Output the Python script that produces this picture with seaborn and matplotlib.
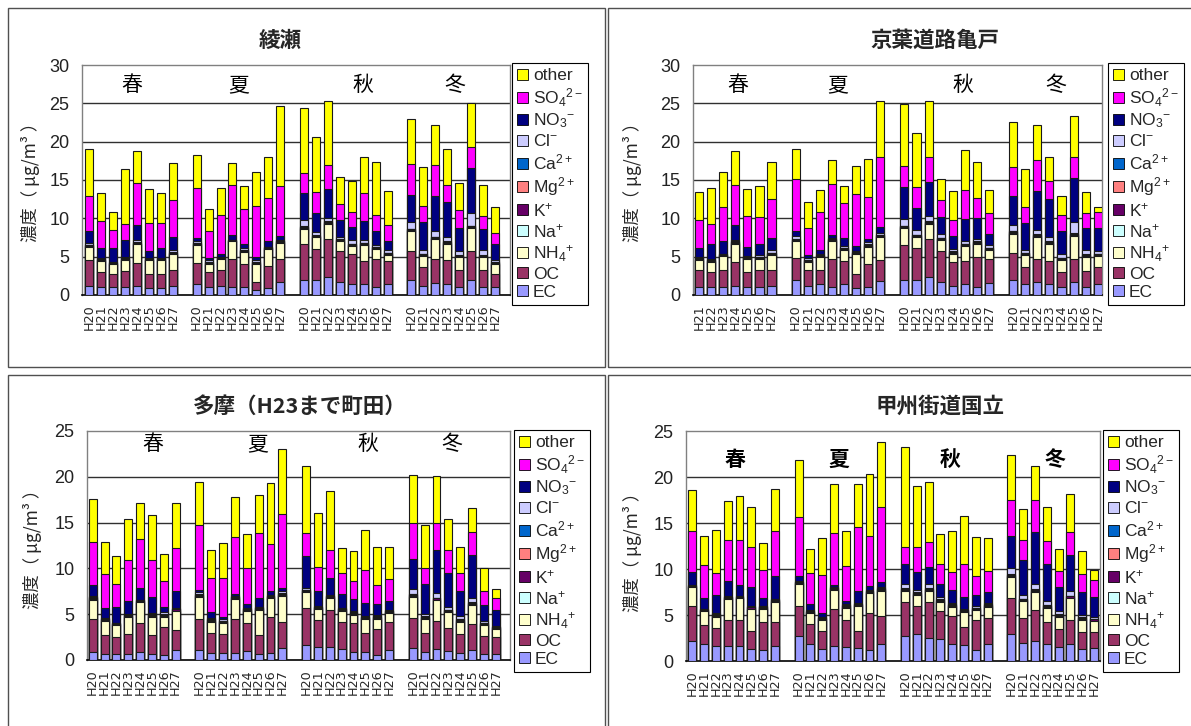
import matplotlib
matplotlib.use("Agg")
import matplotlib.pyplot as plt
from matplotlib.patches import Rectangle, Patch
import numpy as np
import pandas as pd
import seaborn as sns

sns.set_theme(style="white")
plt.rcParams["font.family"] = ["Noto Sans CJK JP", "DejaVu Sans"]
plt.rcParams["mathtext.fontset"] = "custom"
plt.rcParams["mathtext.rm"] = "Liberation Sans"
plt.rcParams["mathtext.it"] = "Liberation Sans:italic"
plt.rcParams["mathtext.bf"] = "Liberation Sans:bold"

# ---------------- data ----------------
YEARS = ["H20", "H21", "H22", "H23", "H24", "H25", "H26", "H27"]
SEASONS = ["春", "夏", "秋", "冬"]
COMPONENTS = ["EC", "OC", "NH4", "Na", "K", "Mg", "Ca", "Cl", "NO3", "SO4", "other"]
LEGEND_LABELS = {
    "other": "other", "SO4": r"SO$_4$$^{2-}$", "NO3": r"NO$_3$$^{-}$", "Cl": r"Cl$^{-}$",
    "Ca": r"Ca$^{2+}$", "Mg": r"Mg$^{2+}$", "K": r"K$^{+}$", "Na": r"Na$^{+}$",
    "NH4": r"NH$_4$$^{+}$", "OC": "OC", "EC": "EC",
}
COLORS = {
    "EC": "#9999FF", "OC": "#993366", "NH4": "#FFFFCC", "Na": "#CCFFFF", "K": "#660066",
    "Mg": "#FF8080", "Ca": "#0066CC", "Cl": "#CCCCFF", "NO3": "#000080", "SO4": "#FF00FF",
    "other": "#FFFF00",
}

# 綾瀬 (spring H20-H27, summer, autumn, winter)
AYASE_EC = [1.2, 1.0, 1.0, 1.0, 1.2, 0.9, 0.9, 1.2, 1.4, 1.0, 1.2, 1.0, 1.1, 0.7, 0.9, 1.7,
            2.0, 2.0, 2.3, 1.7, 1.4, 1.4, 1.0, 1.4, 1.9, 1.2, 1.6, 1.4, 1.0, 1.9, 1.0, 1.0]
AYASE_OC = [3.4, 2.0, 1.8, 2.1, 3.0, 1.9, 1.9, 2.1, 2.8, 2.0, 2.0, 3.7, 3.0, 1.0, 2.9, 3.0,
            4.7, 4.0, 5.0, 4.0, 4.0, 3.0, 3.7, 3.0, 3.9, 2.4, 3.1, 3.2, 2.2, 3.9, 2.3, 1.8]
AYASE_NH4 = [1.7, 1.4, 1.2, 1.4, 2.4, 1.7, 1.7, 2.0, 2.3, 1.0, 1.5, 2.3, 1.5, 2.3, 2.2, 2.1,
             1.9, 1.5, 2.0, 1.3, 1.0, 2.1, 1.3, 0.8, 2.5, 1.5, 2.6, 2.1, 1.7, 2.9, 1.6, 1.2]
AYASE_NA = [0.10, 0.10, 0.08, 0.10, 0.10, 0.08, 0.10, 0.10, 0.10, 0.10, 0.08, 0.06, 0.10, 0.10, 0.08, 0.10,
            0.12, 0.10, 0.10, 0.10, 0.10, 0.10, 0.10, 0.10, 0.12, 0.10, 0.10, 0.10, 0.10, 0.12, 0.10, 0.10]
AYASE_K = [0.12, 0.12, 0.10, 0.12, 0.12, 0.10, 0.12, 0.12, 0.12, 0.12, 0.10, 0.08, 0.12, 0.12, 0.10, 0.12,
           0.14, 0.12, 0.14, 0.12, 0.12, 0.12, 0.12, 0.12, 0.15, 0.12, 0.14, 0.14, 0.12, 0.15, 0.12, 0.12]
AYASE_MG = [0.02, 0.02, 0.02, 0.02, 0.02, 0.02, 0.02, 0.02, 0.02, 0.02, 0.02, 0.02, 0.02, 0.02, 0.02, 0.02,
            0.02, 0.02, 0.02, 0.02, 0.02, 0.02, 0.02, 0.02, 0.03, 0.02, 0.02, 0.02, 0.02, 0.03, 0.02, 0.02]
AYASE_CA = [0.04, 0.04, 0.04, 0.04, 0.05, 0.04, 0.04, 0.05, 0.05, 0.04, 0.04, 0.04, 0.05, 0.04, 0.04, 0.05,
            0.06, 0.05, 0.05, 0.05, 0.05, 0.05, 0.04, 0.05, 0.06, 0.05, 0.05, 0.05, 0.05, 0.06, 0.05, 0.04]
AYASE_CL = [0.2, 0.2, 0.05, 0.2, 0.3, 0.05, 0.1, 0.3, 0.2, 0.3, 0.05, 0.03, 0.2, 0.3, 0.05, 0.1,
            0.9, 0.4, 0.4, 0.3, 0.5, 0.4, 0.2, 0.4, 0.9, 0.5, 0.7, 0.6, 0.5, 1.7, 0.7, 0.3]
AYASE_NO3 = [1.6, 1.3, 1.8, 2.2, 2.0, 1.0, 1.2, 1.7, 0.5, 0.3, 0.4, 0.6, 0.6, 0.4, 0.7, 0.5,
             3.5, 2.5, 3.8, 2.2, 1.7, 2.4, 1.9, 1.2, 3.5, 3.6, 4.6, 4.5, 3.1, 5.8, 2.7, 2.1]
AYASE_SO4 = [4.5, 3.5, 2.4, 2.1, 5.4, 3.6, 3.3, 4.8, 6.5, 3.5, 5.0, 6.5, 4.5, 6.6, 5.7, 6.5,
             2.6, 2.7, 3.1, 2.1, 1.9, 3.7, 2.0, 2.0, 4.0, 2.1, 4.0, 2.2, 2.3, 2.8, 1.7, 1.4]
AYASE_OTHER = [6.1, 3.6, 2.3, 7.1, 4.2, 4.5, 3.9, 4.8, 4.3, 2.8, 3.6, 2.9, 3.0, 4.4, 5.3, 10.5,
               8.5, 7.2, 8.4, 3.5, 4.1, 4.7, 7.0, 4.5, 5.9, 5.1, 5.2, 4.7, 3.5, 5.7, 4.1, 3.4]

# 京葉道路亀戸 (spring H21-H27, summer, autumn, winter H20-H27)
KAMEIDO_EC = [1.0, 1.1, 1.1, 1.2, 1.0, 1.0, 1.2, 1.9, 1.2, 1.4, 1.1, 1.4, 0.9, 1.0, 1.8,
              2.0, 2.0, 2.3, 1.7, 1.2, 1.4, 1.1, 1.6, 1.9, 1.4, 1.7, 1.4, 1.0, 1.7, 1.0, 1.4]
KAMEIDO_OC = [2.2, 1.9, 2.2, 3.1, 2.0, 2.2, 2.1, 2.9, 2.1, 1.9, 3.6, 3.0, 1.9, 3.1, 2.8,
              4.5, 4.1, 5.0, 4.0, 3.1, 3.0, 3.8, 3.1, 3.6, 2.2, 3.0, 3.0, 2.0, 3.0, 2.1, 2.2]
KAMEIDO_NH4 = [1.3, 1.3, 1.8, 2.4, 1.7, 1.5, 1.9, 2.2, 1.0, 1.6, 2.3, 1.5, 2.5, 2.2, 3.0,
               2.2, 1.5, 2.0, 1.5, 1.1, 2.0, 1.8, 1.2, 2.5, 1.6, 2.9, 2.3, 1.6, 3.0, 1.9, 1.5]
KAMEIDO_NA = [0.10, 0.10, 0.08, 0.10, 0.10, 0.10, 0.10, 0.10, 0.10, 0.10, 0.10, 0.10, 0.10, 0.10, 0.10,
              0.12, 0.10, 0.10, 0.10, 0.10, 0.10, 0.10, 0.10, 0.12, 0.10, 0.10, 0.10, 0.10, 0.12, 0.10, 0.10]
KAMEIDO_K = [0.12, 0.12, 0.10, 0.12, 0.12, 0.12, 0.12, 0.12, 0.12, 0.12, 0.12, 0.12, 0.12, 0.12, 0.12,
             0.14, 0.12, 0.14, 0.12, 0.12, 0.12, 0.12, 0.12, 0.15, 0.12, 0.14, 0.14, 0.12, 0.15, 0.12, 0.12]
KAMEIDO_MG = [0.02, 0.02, 0.02, 0.02, 0.02, 0.02, 0.02, 0.02, 0.02, 0.02, 0.02, 0.02, 0.02, 0.02, 0.02,
              0.02, 0.02, 0.02, 0.02, 0.02, 0.02, 0.02, 0.02, 0.03, 0.02, 0.02, 0.02, 0.02, 0.03, 0.02, 0.02]
KAMEIDO_CA = [0.05, 0.05, 0.04, 0.05, 0.05, 0.05, 0.05, 0.05, 0.05, 0.05, 0.05, 0.05, 0.05, 0.05, 0.05,
              0.06, 0.05, 0.06, 0.05, 0.05, 0.05, 0.05, 0.05, 0.06, 0.05, 0.05, 0.05, 0.05, 0.06, 0.05, 0.05]
KAMEIDO_CL = [0.2, 0.1, 0.05, 0.2, 0.1, 0.2, 0.4, 0.4, 0.3, 0.2, 0.1, 0.2, 0.1, 0.3, 0.2,
              0.9, 0.6, 0.7, 0.5, 0.3, 0.3, 0.3, 0.3, 0.8, 0.4, 0.6, 0.6, 0.5, 1.5, 0.6, 0.4]
KAMEIDO_NO3 = [1.2, 2.0, 1.7, 1.9, 1.2, 1.5, 1.6, 0.6, 0.3, 0.5, 0.4, 1.0, 0.7, 0.4, 0.8,
               4.2, 2.9, 4.4, 2.2, 1.7, 2.9, 2.8, 1.5, 3.7, 3.5, 5.1, 4.9, 2.9, 5.7, 2.9, 3.0]
KAMEIDO_SO4 = [3.6, 2.6, 4.4, 5.2, 4.0, 3.5, 5.0, 6.8, 3.6, 4.9, 6.7, 4.6, 6.8, 5.5, 9.1,
               2.7, 2.7, 3.3, 2.2, 2.1, 3.8, 2.5, 2.7, 3.9, 2.1, 4.0, 2.4, 2.1, 2.7, 1.9, 2.0]
KAMEIDO_OTHER = [3.6, 4.7, 4.5, 4.5, 3.5, 4.0, 4.9, 3.9, 3.3, 2.9, 3.1, 2.2, 3.6, 4.9, 7.3,
                 8.1, 7.0, 7.3, 2.8, 3.8, 5.2, 4.8, 3.0, 5.8, 4.9, 4.5, 3.1, 2.5, 5.4, 2.7, 0.7]

# 多摩 (H23まで町田)
TAMA_EC = [0.9, 0.7, 0.7, 0.7, 0.9, 0.7, 0.5, 1.1, 1.1, 0.8, 0.8, 0.8, 1.0, 0.7, 0.8, 1.3,
           1.6, 1.4, 1.4, 1.2, 0.9, 0.9, 0.6, 1.1, 1.3, 0.9, 1.2, 1.0, 0.8, 1.1, 0.7, 0.7]
TAMA_OC = [3.6, 2.0, 1.8, 2.1, 3.1, 2.0, 3.1, 2.2, 3.4, 2.1, 2.0, 3.7, 3.0, 2.0, 3.9, 2.9,
           4.1, 3.0, 4.1, 3.0, 3.1, 2.1, 2.8, 3.0, 3.3, 2.1, 3.1, 2.5, 2.0, 2.8, 1.9, 1.8]
TAMA_NH4 = [2.1, 1.6, 1.3, 1.9, 2.3, 2.0, 1.1, 2.0, 2.4, 1.3, 1.2, 2.2, 1.4, 2.8, 2.1, 2.8,
            1.7, 1.2, 1.3, 1.2, 0.9, 1.5, 1.1, 1.0, 2.3, 1.5, 2.2, 1.7, 1.4, 2.1, 1.2, 0.9]
TAMA_NA = [0.10, 0.08, 0.08, 0.08, 0.08, 0.10, 0.10, 0.10, 0.10, 0.10, 0.10, 0.08, 0.08, 0.08, 0.08, 0.10,
           0.10, 0.08, 0.08, 0.08, 0.10, 0.08, 0.10, 0.10, 0.10, 0.10, 0.10, 0.10, 0.10, 0.10, 0.10, 0.08]
TAMA_K = [0.12, 0.10, 0.10, 0.10, 0.10, 0.12, 0.12, 0.12, 0.12, 0.12, 0.12, 0.10, 0.10, 0.10, 0.10, 0.12,
          0.12, 0.10, 0.10, 0.10, 0.12, 0.10, 0.12, 0.12, 0.14, 0.12, 0.14, 0.12, 0.12, 0.14, 0.12, 0.10]
TAMA_MG = [0.02, 0.02, 0.02, 0.02, 0.02, 0.02, 0.02, 0.02, 0.02, 0.02, 0.02, 0.02, 0.02, 0.02, 0.02, 0.02,
           0.02, 0.02, 0.02, 0.02, 0.02, 0.02, 0.02, 0.02, 0.02, 0.02, 0.02, 0.02, 0.02, 0.02, 0.02, 0.02]
TAMA_CA = [0.05, 0.04, 0.04, 0.04, 0.04, 0.05, 0.05, 0.05, 0.05, 0.05, 0.05, 0.04, 0.04, 0.04, 0.04, 0.05,
           0.05, 0.04, 0.04, 0.04, 0.05, 0.04, 0.05, 0.05, 0.05, 0.05, 0.05, 0.05, 0.05, 0.05, 0.05, 0.04]
TAMA_CL = [0.1, 0.05, 0.05, 0.05, 0.05, 0.1, 0.2, 0.1, 0.2, 0.1, 0.2, 0.05, 0.05, 0.05, 0.05, 0.2,
           0.2, 0.05, 0.05, 0.05, 0.2, 0.05, 0.1, 0.1, 0.5, 0.2, 0.5, 0.3, 0.3, 0.5, 0.2, 0.1]
TAMA_NO3 = [1.2, 1.1, 1.7, 1.4, 1.3, 1.8, 0.6, 1.8, 0.3, 0.6, 0.2, 0.2, 0.4, 1.0, 0.4, 0.4,
            3.5, 1.6, 1.9, 1.5, 1.3, 1.4, 1.2, 0.9, 3.3, 3.3, 4.7, 3.7, 2.7, 4.7, 1.7, 1.7]
TAMA_SO4 = [4.7, 3.7, 2.5, 4.5, 5.3, 4.0, 2.8, 4.7, 7.0, 3.8, 4.3, 6.2, 3.9, 7.1, 5.2, 8.0,
            2.5, 2.7, 3.0, 2.3, 1.9, 3.6, 2.1, 2.4, 3.9, 1.8, 3.0, 2.5, 2.0, 2.5, 1.5, 1.3]
TAMA_OTHER = [4.7, 3.5, 3.1, 4.5, 4.0, 4.9, 3.0, 5.0, 4.7, 3.0, 3.8, 4.4, 3.8, 4.1, 6.6, 7.1,
              7.3, 5.9, 6.5, 2.7, 3.3, 4.4, 4.1, 3.5, 5.3, 4.6, 5.1, 3.4, 2.8, 2.6, 2.5, 1.0]

# 甲州街道国立
KUNITACHI_EC = [2.2, 1.8, 1.6, 1.6, 1.6, 1.3, 1.2, 1.6, 2.7, 1.9, 1.3, 1.6, 1.5, 1.4, 1.2, 1.8,
                2.7, 2.9, 2.5, 2.4, 1.8, 1.7, 1.2, 1.8, 2.9, 2.0, 2.2, 1.8, 1.5, 1.8, 1.3, 1.4]
KUNITACHI_OC = [3.8, 2.1, 2.0, 2.9, 2.9, 2.0, 3.0, 2.6, 3.3, 2.1, 2.0, 4.1, 3.0, 1.9, 4.0, 3.1,
                3.7, 3.1, 3.9, 3.0, 3.1, 2.0, 3.3, 2.9, 3.9, 2.7, 3.3, 2.4, 2.0, 2.7, 1.9, 1.8]
KUNITACHI_NH4 = [2.0, 1.5, 1.2, 2.2, 2.3, 2.3, 1.5, 2.2, 2.4, 1.2, 1.2, 2.0, 1.3, 2.7, 2.2, 2.7,
                 1.2, 1.2, 1.2, 1.0, 1.0, 1.6, 1.0, 1.2, 2.3, 1.8, 2.0, 1.6, 1.3, 2.3, 1.3, 1.1]
KUNITACHI_NA = [0.08, 0.08, 0.10, 0.10, 0.08, 0.10, 0.08, 0.10, 0.08, 0.08, 0.08, 0.10, 0.10, 0.08, 0.08, 0.10,
                0.10, 0.10, 0.10, 0.10, 0.10, 0.10, 0.10, 0.10, 0.10, 0.10, 0.10, 0.10, 0.10, 0.10, 0.10, 0.10]
KUNITACHI_K = [0.10, 0.10, 0.12, 0.12, 0.10, 0.12, 0.10, 0.12, 0.10, 0.10, 0.10, 0.12, 0.12, 0.10, 0.10, 0.12,
               0.14, 0.12, 0.14, 0.12, 0.12, 0.12, 0.12, 0.12, 0.15, 0.12, 0.14, 0.12, 0.12, 0.14, 0.12, 0.12]
KUNITACHI_MG = [0.02, 0.02, 0.02, 0.02, 0.02, 0.02, 0.02, 0.02, 0.02, 0.02, 0.02, 0.02, 0.02, 0.02, 0.02, 0.02,
                0.02, 0.02, 0.02, 0.02, 0.02, 0.02, 0.02, 0.02, 0.03, 0.02, 0.02, 0.02, 0.02, 0.02, 0.02, 0.02]
KUNITACHI_CA = [0.04, 0.04, 0.05, 0.05, 0.04, 0.05, 0.04, 0.05, 0.04, 0.04, 0.04, 0.05, 0.05, 0.04, 0.04, 0.05,
                0.06, 0.05, 0.06, 0.05, 0.05, 0.05, 0.05, 0.05, 0.06, 0.05, 0.05, 0.05, 0.05, 0.05, 0.05, 0.05]
KUNITACHI_CL = [0.05, 0.05, 0.1, 0.1, 0.05, 0.1, 0.05, 0.1, 0.05, 0.05, 0.05, 0.1, 0.1, 0.05, 0.05, 0.1,
                0.4, 0.2, 0.4, 0.3, 0.1, 0.1, 0.2, 0.1, 0.7, 0.4, 0.6, 0.4, 0.3, 0.5, 0.2, 0.2]
KUNITACHI_NO3 = [1.4, 1.2, 2.0, 1.6, 1.2, 2.0, 0.9, 2.4, 0.5, 0.7, 0.4, 0.2, 0.3, 1.3, 0.5, 0.6,
                 2.2, 2.0, 1.9, 1.4, 1.4, 1.3, 1.2, 1.2, 3.5, 3.8, 5.6, 4.0, 2.6, 3.9, 2.5, 2.2]
KUNITACHI_SO4 = [4.4, 3.5, 2.4, 4.5, 4.9, 4.4, 3.0, 4.9, 6.5, 3.4, 4.2, 5.6, 3.8, 7.0, 5.4, 8.2,
                 1.9, 2.7, 2.7, 2.1, 2.0, 3.6, 2.0, 2.3, 3.9, 2.2, 3.5, 2.5, 1.8, 2.5, 2.0, 1.8]
KUNITACHI_OTHER = [4.5, 3.2, 4.7, 4.2, 4.7, 4.4, 2.9, 4.6, 6.2, 2.6, 4.0, 5.3, 3.8, 4.6, 6.7, 7.0,
                   10.8, 6.6, 6.5, 3.3, 4.4, 5.2, 4.3, 3.6, 4.8, 3.3, 3.7, 3.8, 2.4, 4.1, 2.5, 1.1]

STATIONS = [
    dict(title="綾瀬", first_spring=0, ymax=30,
         data=[AYASE_EC, AYASE_OC, AYASE_NH4, AYASE_NA, AYASE_K, AYASE_MG, AYASE_CA, AYASE_CL,
               AYASE_NO3, AYASE_SO4, AYASE_OTHER]),
    dict(title="京葉道路亀戸", first_spring=1, ymax=30,
         data=[KAMEIDO_EC, KAMEIDO_OC, KAMEIDO_NH4, KAMEIDO_NA, KAMEIDO_K, KAMEIDO_MG, KAMEIDO_CA,
               KAMEIDO_CL, KAMEIDO_NO3, KAMEIDO_SO4, KAMEIDO_OTHER]),
    dict(title="多摩（H23まで町田）", first_spring=0, ymax=25,
         data=[TAMA_EC, TAMA_OC, TAMA_NH4, TAMA_NA, TAMA_K, TAMA_MG, TAMA_CA, TAMA_CL,
               TAMA_NO3, TAMA_SO4, TAMA_OTHER]),
    dict(title="甲州街道国立", first_spring=0, ymax=25,
         data=[KUNITACHI_EC, KUNITACHI_OC, KUNITACHI_NH4, KUNITACHI_NA, KUNITACHI_K, KUNITACHI_MG,
               KUNITACHI_CA, KUNITACHI_CL, KUNITACHI_NO3, KUNITACHI_SO4, KUNITACHI_OTHER]),
]

# ---------------- layout (pixels of a 1191x726 canvas) ----------------
W, H = 1191, 726
fig = plt.figure(figsize=(W / 100, H / 100), dpi=100)
fig.patch.set_facecolor("white")


def fx(px):
    return px / W


def fy(py):
    return 1 - py / H


# panel frames: (left, top, right, bottom)
FRAMES = [(8, 8, 605, 367), (608, 8, 1195, 367), (8, 375, 605, 730), (608, 375, 1195, 730)]
# axes rectangles: (left, top, right, bottom)
AX_RECTS = [(82, 65, 510, 295), (693, 65, 1102, 295), (87, 431, 510, 660), (686, 431, 1100, 661)]
XLIMS = [(-0.61, 35.26), (-0.5, 33.35), (-0.48, 35.2), (-0.53, 34.5)]
SEASON_X = [[3.6, 12.5, 22.9, 30.6], [3.2, 11.45, 21.8, 29.5], [5.1, 13.9, 23.2, 30.3], [3.6, 12.4, 21.8, 30.7]]
SEASON_Y = [27.4, 27.4, 23.6, 21.9]
SEASON_BOLD = [False, False, False, True]
TITLE_POS = [(280, 40), (935, 40), (300, 406), (940, 406)]
YLABEL_POS = [(30, 178), (633, 178), (33, 545), (633, 548)]
LEGEND_POS = [(512, 63), (1108, 63), (514, 430), (1103, 430)]

for (l, t, r, b) in FRAMES:
    fig.add_artist(Rectangle((fx(l), fy(b)), fx(r) - fx(l), fy(t) - fy(b),
                             transform=fig.transFigure, fill=False, edgecolor="#505050", lw=1.0))

for i, st in enumerate(STATIONS):
    l, t, r, b = AX_RECTS[i]
    ax = fig.add_axes([fx(l), fy(b), fx(r) - fx(l), fy(t) - fy(b)])
    ax.set_facecolor("white")

    # positions and labels for each bar (one empty slot between seasons)
    positions, labels = [], []
    p = 0
    for s in range(4):
        yrs = YEARS[st["first_spring"]:] if s == 0 else YEARS
        for y in yrs:
            positions.append(p)
            labels.append(y)
            p += 1
        p += 1

    df = pd.DataFrame({c: v for c, v in zip(COMPONENTS, st["data"])})
    df["pos"] = positions
    cum = df[COMPONENTS].cumsum(axis=1)
    for c in reversed(COMPONENTS):
        sub = pd.DataFrame({"pos": df["pos"], "top": cum[c]})
        sns.barplot(data=sub, x="pos", y="top", native_scale=True, color=COLORS[c],
                    saturation=1, edgecolor="#1a1a1a", linewidth=0.8, width=0.67,
                    errorbar=None, ax=ax, zorder=3)

    ymax = st["ymax"]
    ax.set_ylim(0, ymax)
    ax.set_xlim(*XLIMS[i])
    ax.set_yticks(np.arange(0, ymax + 1, 5))
    ax.set_yticklabels([str(v) for v in range(0, ymax + 1, 5)], family=["Liberation Sans"], fontsize=13)
    ax.set_xticks(positions)
    ax.set_xticklabels(labels, rotation=90, fontsize=9.2, family=["DejaVu Sans"])
    ax.tick_params(axis="x", length=0, pad=7)
    ax.tick_params(axis="y", length=0, pad=9, colors="#222222")
    ax.set_xlabel("")
    ax.set_ylabel("")
    for yv in range(5, ymax, 5):
        ax.axhline(yv, color="#303030", lw=1.0, zorder=1)
    for sp in ["left", "top", "right"]:
        ax.spines[sp].set_color("#808080")
        ax.spines[sp].set_linewidth(1.0)
    ax.spines["bottom"].set_color("black")
    ax.spines["bottom"].set_linewidth(1.2)

    for sx, name in zip(SEASON_X[i], SEASONS):
        ax.text(sx, SEASON_Y[i], name, ha="center", va="center", fontsize=15,
                fontweight="bold" if SEASON_BOLD[i] else "normal", color="black", zorder=5)

    tx, ty = TITLE_POS[i]
    fig.text(fx(tx), fy(ty), st["title"], ha="center", va="center", fontsize=15.5, fontweight="bold")
    yx, yy = YLABEL_POS[i]
    fig.text(fx(yx), fy(yy), "濃度（ μg/m³ ）", rotation=90, ha="center", va="center", fontsize=12.5)

    handles = [Patch(facecolor=COLORS[c], edgecolor="black", lw=0.6) for c in reversed(COMPONENTS)]
    lx, ly = LEGEND_POS[i]
    leg = fig.legend(handles, [LEGEND_LABELS[c] for c in reversed(COMPONENTS)],
                     loc="upper left", bbox_to_anchor=(fx(lx), fy(ly)), bbox_transform=fig.transFigure,
                     frameon=True, fancybox=False, edgecolor="black", framealpha=1,
                     prop={"family": "Liberation Sans", "size": 12.5},
                     handlelength=0.6, handleheight=0.6, handletextpad=0.3,
                     labelspacing=0.17, borderpad=0.3, borderaxespad=0)
    leg.get_frame().set_linewidth(0.8)

fig.savefig("out.png", dpi=100, facecolor="white")
